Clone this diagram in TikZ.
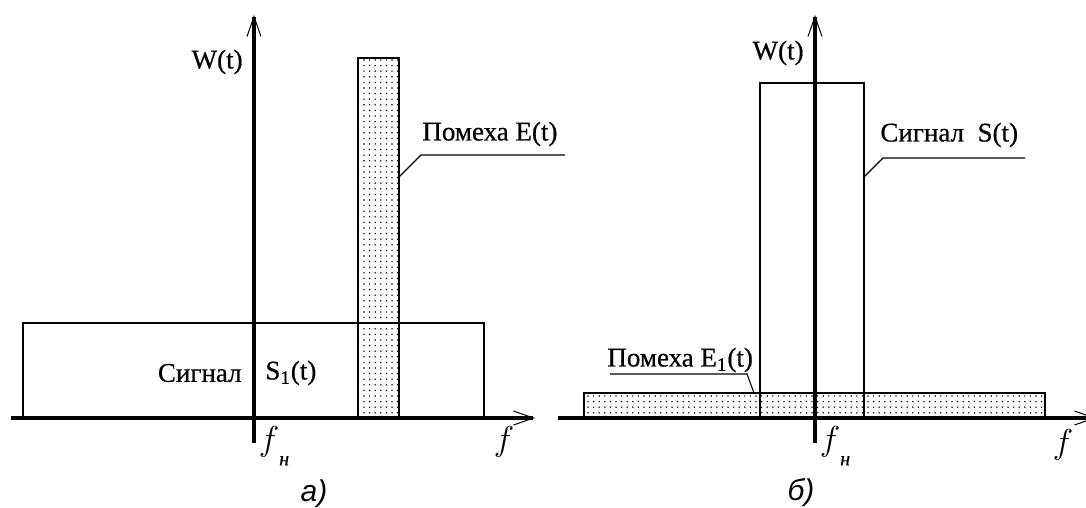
\documentclass[tikz,border=0pt]{standalone}
\usepackage{fontspec}
\setmainfont{Liberation Serif}[FakeBold=0.6]
\newfontfamily\capfont{Liberation Sans}
\usetikzlibrary{arrows.meta,patterns.meta}
\tikzset{
    axis/.style={line width=1.6pt,-{Straight Barb[length=10pt,width=7pt,line width=0.5pt]}},
    band/.style={line width=0.6pt},
    noiseband/.style={band,pattern={Dots[distance=2.8pt,radius=0.4pt]}},
    leader/.style={line width=0.55pt},
    lbl/.style={font=\fontsize{13.5}{13.5}\selectfont,inner sep=0pt},
    captxt/.style={font=\capfont\itshape\fontsize{15}{15}\selectfont,inner sep=0pt}
}
\newcommand{\fnlabel}{$f$\raisebox{-1ex}{\textit{\fontsize{10}{10}\selectfont н}}}
\begin{document}
\begin{tikzpicture}[x=0.5pt,y=0.5pt]
    \useasboundingbox (0,0) rectangle (1086,508);
    % panel a)
    \begin{scope}[shift={(254,90)}]
        \draw[noiseband] (104,0) rectangle (145,360);
        \draw[band] (-231,0) rectangle (230,95);
        \coordinate (xa0) at (-243,0);
        \coordinate (xa1) at (281,0);
        \coordinate (ya0) at (0,-25);
        \coordinate (ya1) at (0,403);
        \draw[axis] (xa0) -- (xa1);
        \draw[axis] (ya0) -- (ya1);
        \node[lbl,anchor=east] (wa) at (-11,356) {W(t)};
        \node[lbl,anchor=east] (siga) at (-12,45) {Сигнал};
        \node[lbl,anchor=west] (sa) at (11,45) {S\textsubscript{1}(t)};
        \node[lbl,anchor=west] (noisea) at (168,284) {Помеха E(t)};
        \coordinate (noiseaedge) at (145,241);
        \coordinate (noiseabend) at (167,263);
        \coordinate (noiseaend) at (311,263);
        \draw[leader] (noiseaedge) -- (noiseabend) -- (noiseaend);
        \node[lbl,font=\fontsize{16}{16}\selectfont] (fna) at (20,-28) {\fnlabel};
        \node[lbl,font=\fontsize{16}{16}\selectfont] (fa) at (250,-24) {$f$};
        \node[captxt] (capa) at (60,-76) {а)};
    \end{scope}
    % panel b)
    \begin{scope}[shift={(815,90)}]
        \draw[noiseband] (-231,0) rectangle (230,25);
        \draw[band] (-55,0) rectangle (49,335);
        \coordinate (xb0) at (-257,0);
        \coordinate (xb1) at (281,0);
        \coordinate (yb0) at (0,-25);
        \coordinate (yb1) at (0,403);
        \draw[axis] (xb0) -- (xb1);
        \draw[axis] (yb0) -- (yb1);
        \node[lbl,anchor=east] (wb) at (-11,365) {W(t)};
        \node[lbl,anchor=west] (sigb) at (65,283) {Сигнал\ \ S(t)};
        \coordinate (sigbedge) at (49,241);
        \coordinate (sigbbend) at (68,260);
        \coordinate (sigbend) at (210,260);
        \draw[leader] (sigbedge) -- (sigbbend) -- (sigbend);
        \node[lbl,anchor=west] (noiseb) at (-208,58) {Помеха E\textsubscript{1}(t)};
        \coordinate (noisebedge) at (-61,25);
        \coordinate (noisebbend) at (-68,44);
        \coordinate (noisebend) at (-205,44);
        \draw[leader] (noisebedge) -- (noisebbend) -- (noisebend);
        \node[lbl,font=\fontsize{16}{16}\selectfont] (fnb) at (20,-28) {\fnlabel};
        \node[lbl,font=\fontsize{16}{16}\selectfont] (fb) at (248,-27) {$f$};
        \node[captxt] (capb) at (-14,-75) {б)};
    \end{scope}
\end{tikzpicture}
\end{document}
